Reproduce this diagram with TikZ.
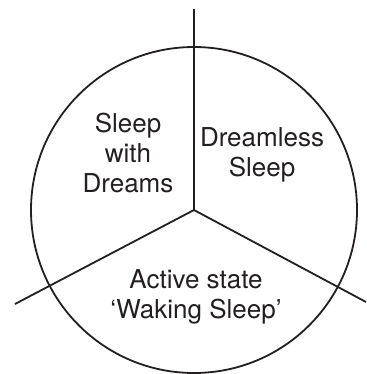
\documentclass[tikz,border=0pt]{standalone}
\usepackage{fontspec}
\setmainfont{TeX Gyre Heros}
\usepackage{tikz}
\definecolor{ink}{HTML}{231F20}

\begin{document}
\begin{tikzpicture}[x=1pt, y=-1pt,
    spoke/.style={ink, line width=1.8pt},
    state/.style={ink, align=center, font=\fontsize{26}{29.8}\selectfont}]
    \useasboundingbox (0,0) rectangle (366,374);

    % Circle and spokes
    \coordinate (c) at (194,210);
    \coordinate (top) at (194,9);
    \coordinate (left) at (15,304);
    \coordinate (right) at (366,302);
    \draw[spoke] (c) circle[radius=163pt];
    \draw[spoke] (c) -- (top);
    \draw[spoke] (c) -- (left);
    \draw[spoke] (c) -- (right);

    % Labels
    \node[state] (dreams) at (128,153) {Sleep\\with\\Dreams};
    \node[state] (dreamless) at (262,155) {Dreamless\\Sleep};
    \node[state] (waking) at (196,297) {Active state\\`Waking Sleep'};
\end{tikzpicture}
\end{document}
